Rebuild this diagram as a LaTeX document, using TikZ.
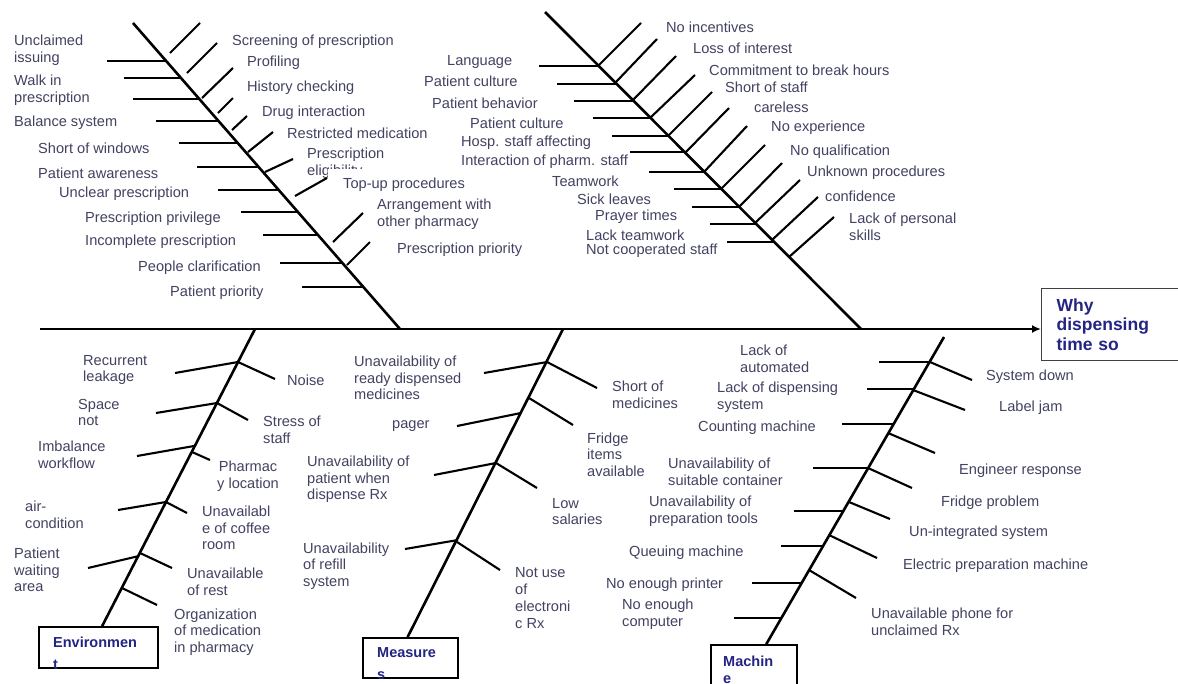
\documentclass[tikz,border=0pt]{standalone}
\usepackage{fontspec}
\setmainfont{Liberation Sans}
\definecolor{fbtext}{RGB}{66,66,98}
\definecolor{fbnavy}{RGB}{36,36,132}
\usetikzlibrary{arrows.meta,calc}

\begin{document}
\begin{tikzpicture}[x=1pt,y=-1pt,
  lbl/.style={font=\fontsize{14.6}{16.7}\selectfont,text=fbtext,align=left,anchor=west,inner sep=0pt},
  bone/.style={line width=2.6pt},
  twig/.style={line width=2.1pt},
  catbox/.style={draw,line width=1.8pt,fill=white,inner sep=0pt},
  cattext/.style={font=\fontsize{14.5}{17}\selectfont\bfseries,text=fbnavy,align=left,anchor=north west,inner sep=0pt}]
  \useasboundingbox[fill=white] (0,0) rectangle (1178,683);

  % head and spine
  \node[draw=black!75,line width=1.2pt,anchor=north west,minimum height=72pt,text width=120pt,
        inner xsep=15pt,inner ysep=0pt,align=left,font=\fontsize{17.5}{19.5}\selectfont\bfseries,
        text=fbnavy] (goal) at (1041,288) {Why\\dispensing\\time so};
  \coordinate (tail) at (40,329);
  \draw[line width=2.8pt,-{Latex[length=9pt,width=8pt]}] (tail) -- (tail -| goal.west);

  % category boxes
  \node[catbox,minimum width=119pt,minimum height=41pt] (env) at (98.5,647.5) {};
  \node[catbox,minimum width=95pt,minimum height=40pt] (meas) at (410.5,658) {};
  \node[catbox,minimum width=86pt,minimum height=55pt] (mach) at (754,672.5) {};
  \begin{scope}
    \clip (env.south west) rectangle (env.north east);
    \node[cattext] (envlbl) at (53,637) {Environmen\\[5pt]t};
  \end{scope}
  \begin{scope}
    \clip (meas.south west) rectangle (meas.north east);
    \node[cattext] (measlbl) at (377,647) {Measure\\[5pt]s};
  \end{scope}
  \node[cattext] (machlbl) at (723,656) {Machin\\e};

  % main bones
  \coordinate (rxtop) at (133,23);
  \coordinate (rxfoot) at (400,329);
  \coordinate (stafftop) at (545,12);
  \coordinate (stafffoot) at (861,329);
  \coordinate (envhead) at (255,329);
  \coordinate (meashead) at (563,329);
  \coordinate (machhead) at (944,337);
  \draw[bone] (rxtop) -- (rxfoot);
  \draw[bone] (stafftop) -- (stafffoot);
  \draw[bone] (envhead) -- ($(env.north west)!.53!(env.north east)$);
  \draw[bone] (meashead) -- ($(meas.north west)!.47!(meas.north east)$);
  \draw[bone] (machhead) -- ($(mach.north west)!.64!(mach.north east)$);

  % prescription bone, left side
  \node[lbl] (unclaimed) at (14,50.5) {Unclaimed\\issuing};
  \node[lbl] (walkin) at (14,90.5) {Walk in\\prescription};
  \node[lbl] (balance) at (14,123) {Balance system};
  \node[lbl] (windows) at (38,148) {Short of windows};
  \node[lbl] (awareness) at (38,173) {Patient awareness};
  \node[lbl] (unclear) at (59,194) {Unclear prescription};
  \node[lbl] (privilege) at (85,219) {Prescription privilege};
  \node[lbl] (incomplete) at (85,242) {Incomplete prescription};
  \node[lbl] (clarif) at (138,268) {People clarification};
  \node[lbl] (ppriority) at (170,293) {Patient priority};
  \draw[twig] (107,61) -- (166,61);
  \draw[twig] (124,78) -- (181,78);
  \draw[twig] (133,99) -- (200,99);
  \draw[twig] (156,121) -- (219,121);
  \draw[twig] (179,143) -- (238,143);
  \draw[twig] (197,167) -- (259,167);
  \draw[twig] (218,190) -- (279,190);
  \draw[twig] (241,212) -- (298,212);
  \draw[twig] (263,235) -- (319,235);
  \draw[twig] (280,263) -- (343,263);
  \draw[twig] (302,287) -- (364,287);

  % prescription bone, right side
  \node[lbl] (screening) at (232,42) {Screening of prescription};
  \node[lbl] (profiling) at (247,63) {Profiling};
  \node[lbl] (history) at (247,88) {History checking};
  \node[lbl] (druginter) at (262,113) {Drug interaction};
  \node[lbl] (restricted) at (287,133) {Restricted medication};
  \node[lbl] (eligib) at (307,163) {Prescription\\eligibility};
  \node[lbl,fill=white,text height=19pt,text depth=5pt] (topup) at (328,181) {\hspace*{15pt}Top-up procedures};
  \node[lbl] (arrange) at (377,214) {Arrangement with\\other pharmacy};
  \node[lbl] (rxpriority) at (397,250) {Prescription priority};
  \draw[twig] (170,53) -- (200,23);
  \draw[twig] (187,73) -- (217,43);
  \draw[twig] (202,98) -- (233,68);
  \draw[twig] (218,113) -- (233,98);
  \draw[twig] (232,130) -- (247,116);
  \draw[twig] (248,152) -- (273,132);
  \draw[twig] (265,172) -- (293,159);
  \draw[twig] (295,196) -- (327,178);
  \draw[twig] (333,242) -- (363,213);
  \draw[twig] (347,265) -- (370,242);

  % staff bone, left side
  \node[lbl] (language) at (447,62) {Language};
  \node[lbl] (culture) at (424,81) {Patient culture};
  \node[lbl] (behavior) at (432,103) {Patient behavior};
  \node[lbl] (culturetwo) at (470,123) {Patient culture};
  \node[lbl] (hosp) at (461,143) {Hosp. staff affecting};
  \node[lbl] (interact) at (461,162) {Interaction of pharm. staff};
  \node[lbl] (teamwork) at (552,181) {Teamwork};
  \node[lbl] (sick) at (577,199) {Sick leaves};
  \node[lbl] (prayer) at (595,217) {Prayer times};
  \node[lbl] (lackteam) at (586,235) {Lack teamwork};
  \node[lbl] (notcoop) at (586,251) {Not cooperated staff};
  \draw[twig] (539,66) -- (599,66);
  \draw[twig] (557,84) -- (617,84);
  \draw[twig] (574,101) -- (633,101);
  \draw[twig] (593,118) -- (650,118);
  \draw[twig] (612,136) -- (668,136);
  \draw[twig] (630,152) -- (684,152);
  \draw[twig] (649,172) -- (704,172);
  \draw[twig] (674,189) -- (721,189);
  \draw[twig] (692,207) -- (739,207);
  \draw[twig] (710,224) -- (756,224);
  \draw[twig] (727,242) -- (774,242);

  % staff bone, right side
  \node[lbl] (incent) at (666,27) {No incentives};
  \node[lbl] (interest) at (693,48) {Loss of interest};
  \node[lbl] (commit) at (709,70) {Commitment to break hours};
  \node[lbl] (shortstaff) at (725,87) {Short of staff};
  \node[lbl] (careless) at (754,107) {careless};
  \node[lbl] (noexp) at (771,128) {No experience};
  \node[lbl] (noqual) at (790,152) {No qualification};
  \node[lbl] (unknown) at (807,173) {Unknown procedures};
  \node[lbl] (confid) at (825,196) {confidence};
  \node[lbl] (personal) at (849,226.5) {Lack of personal\\skills};
  \draw[twig] (599,65) -- (641,23);
  \draw[twig] (616,82) -- (657,39);
  \draw[twig] (633,100) -- (676,56);
  \draw[twig] (650,118) -- (695,75);
  \draw[twig] (668,136) -- (712,92);
  \draw[twig] (685,153) -- (729,108);
  \draw[twig] (704,172) -- (747,126);
  \draw[twig] (721,189) -- (765,145);
  \draw[twig] (739,207) -- (782,163);
  \draw[twig] (755,223) -- (800,180);
  \draw[twig] (772,240) -- (818,197);
  \draw[twig] (789,257) -- (834,217);

  % environment bone
  \node[lbl] (leakage) at (83,370) {Recurrent\\leakage};
  \node[lbl] (space) at (78,412.5) {Space\\not};
  \node[lbl] (imbalance) at (38,455) {Imbalance\\workflow};
  \node[lbl] (aircond) at (25,515) {air-\\condition};
  \node[lbl] (waiting) at (14,570) {Patient\\waiting\\area};
  \node[lbl] (noise) at (287,380) {Noise};
  \node[lbl] (stress) at (263,430) {Stress of\\staff};
  \node[lbl,align=center] (location) at (217,476) {Pharmac\\y location};
  \node[lbl] (coffee) at (202,528) {Unavailabl\\e of coffee\\room};
  \node[lbl] (rest) at (187,582) {Unavailable\\of rest};
  \node[lbl] (organiz) at (174,632) {Organization\\of medication\\in pharmacy};
  \draw[twig] (175,373) -- (238,362);
  \draw[twig] (156,413) -- (217,403);
  \draw[twig] (137,456) -- (194,446);
  \draw[twig] (118,510) -- (166,502);
  \draw[twig] (88,568) -- (139,556);
  \draw[twig] (238,362) -- (275,379);
  \draw[twig] (217,403) -- (248,420);
  \draw[twig] (192,452) -- (210,460);
  \draw[twig] (166,502) -- (187,513);
  \draw[twig] (140,553) -- (172,568);
  \draw[twig] (122,588) -- (157,605);

  % measure bone
  \node[lbl] (readydisp) at (354,378) {Unavailability of\\ready dispensed\\medicines};
  \node[lbl] (pager) at (392,426) {pager};
  \node[lbl] (patwhen) at (307,479.5) {Unavailability of\\patient when\\dispense Rx};
  \node[lbl] (refill) at (303,566) {Unavailability\\of refill\\system};
  \node[lbl] (shortmed) at (612,395) {Short of\\medicines};
  \node[lbl] (fridgeitems) at (587,454.5) {Fridge\\items\\available};
  \node[lbl] (salaries) at (552,511.5) {Low\\salaries};
  \node[lbl] (electronic) at (515,598) {Not use\\of\\electroni\\c Rx};
  \draw[twig] (484,373) -- (547,362);
  \draw[twig] (457,426) -- (521,413);
  \draw[twig] (434,475) -- (496,463);
  \draw[twig] (405,549) -- (458,540);
  \draw[twig] (547,362) -- (597,388);
  \draw[twig] (529,398) -- (573,425);
  \draw[twig] (496,463) -- (537,488);
  \draw[twig] (457,542) -- (500,570);

  % machine bone
  \node[lbl] (automated) at (740,358.5) {Lack of\\automated};
  \node[lbl] (dispsys) at (717,397.5) {Lack of dispensing\\system};
  \node[lbl] (counting) at (698,428) {Counting machine};
  \node[lbl] (container) at (668,471.5) {Unavailability of\\suitable container};
  \node[lbl] (preptools) at (649,511.5) {Unavailability of\\preparation tools};
  \node[lbl] (queuing) at (629,553) {Queuing machine};
  \node[lbl] (printer) at (606,585) {No enough printer};
  \node[lbl] (computer) at (622,614.5) {No enough\\computer};
  \node[lbl] (sysdown) at (986,377) {System down};
  \node[lbl] (labeljam) at (999,408) {Label jam};
  \node[lbl] (engineer) at (959,471) {Engineer response};
  \node[lbl] (fridgeprob) at (941,503) {Fridge problem};
  \node[lbl] (unintegr) at (909,533) {Un-integrated system};
  \node[lbl] (electric) at (903,566) {Electric preparation machine};
  \node[lbl] (phone) at (871,622) {Unavailable phone for\\unclaimed Rx};
  \draw[twig] (879,362) -- (930,362);
  \draw[twig] (867,389) -- (914,389);
  \draw[twig] (842,424) -- (894,424);
  \draw[twig] (813,468) -- (868,468);
  \draw[twig] (794,511) -- (843,511);
  \draw[twig] (781,546) -- (823,546);
  \draw[twig] (752,583) -- (802,583);
  \draw[twig] (734,618) -- (782,618);
  \draw[twig] (930,362) -- (972,380);
  \draw[twig] (913,390) -- (965,410);
  \draw[twig] (888,433) -- (935,453);
  \draw[twig] (868,468) -- (912,488);
  \draw[twig] (849,502) -- (890,519);
  \draw[twig] (829,535) -- (877,558);
  \draw[twig] (809,570) -- (856,598);
\end{tikzpicture}
\end{document}
